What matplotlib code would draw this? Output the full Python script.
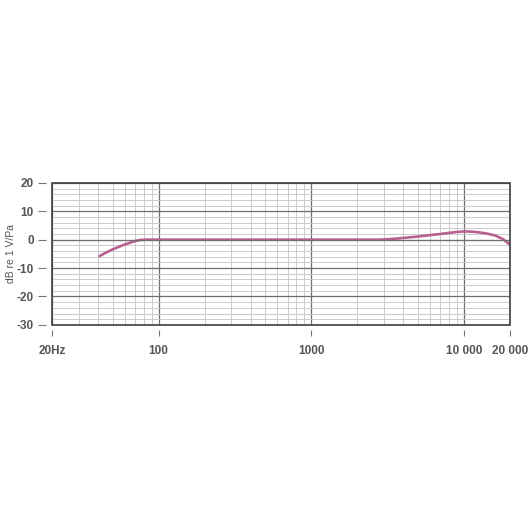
import matplotlib
matplotlib.use("Agg")
import matplotlib.pyplot as plt
from matplotlib.patches import Rectangle
from matplotlib.ticker import FixedLocator, FixedFormatter, NullFormatter, MultipleLocator

# response curve
freq_hz = [41, 45, 50, 55, 60, 65, 70, 76, 82, 100, 200, 500, 1000, 2000, 2800,
           3500, 4000, 5000, 6000, 7000, 8000, 9000, 10000, 11000, 12000,
           14000, 16000, 18000, 20000]
level_db = [-5.8, -4.6, -3.4, -2.5, -1.7, -1.1, -0.5, -0.1, 0.0, 0.0, 0.0, 0.0, 0.0, 0.0, 0.0,
            0.3, 0.6, 1.1, 1.6, 2.0, 2.4, 2.7, 2.9, 2.85, 2.7,
            2.2, 1.5, 0.2, -1.7]

x_ticks = [20, 100, 1000, 10000, 20000]
x_labels = ["20Hz", "100", "1000", "10 000", "20 000"]
y_ticks = [-30, -20, -10, 0, 10, 20]
x_minor = [m * d for d in (10, 100, 1000) for m in range(2, 10)] + [20000]

plt.rcParams["font.family"] = ["Liberation Sans", "DejaVu Sans"]
plt.rcParams["axes.unicode_minus"] = False

text_col = "#555555"
line_col = "#b8608f"

fig = plt.figure(figsize=(5.3, 5.3), dpi=100)
ax = fig.add_axes([0.098, 0.387, 0.864, 0.268])

ax.semilogx(freq_hz, level_db, color=line_col, lw=1.9, zorder=3, solid_capstyle="round")
# the 0 dB reference line shows through the curve
ax.axhline(0, color="#707070", lw=0.8, zorder=3.5)

ax.set_xlim(20, 20000)
ax.set_ylim(-30, 20)

ax.xaxis.set_major_locator(FixedLocator(x_ticks))
ax.xaxis.set_major_formatter(FixedFormatter(x_labels))
ax.xaxis.set_minor_locator(FixedLocator(x_minor))
ax.xaxis.set_minor_formatter(NullFormatter())
ax.yaxis.set_major_locator(FixedLocator(y_ticks))
ax.yaxis.set_minor_locator(MultipleLocator(2))

# grid: light minor, darker major
ax.grid(which="minor", color="#c4c4c4", lw=0.6)
ax.grid(which="major", color="#6e6e6e", lw=0.9)
ax.set_axisbelow(True)

# ticks sit a little away from the frame
for side in ("left", "bottom"):
    ax.spines[side].set_position(("outward", 4))
    ax.spines[side].set_visible(False)
for side in ("top", "right"):
    ax.spines[side].set_visible(False)
ax.add_patch(Rectangle((0, 0), 1, 1, transform=ax.transAxes, fill=False,
                       ec="#404040", lw=1.2, zorder=5, clip_on=False))

ax.tick_params(axis="x", which="major", length=4.5, width=0.8, color="#777777",
               pad=6, labelsize=8.5, labelcolor=text_col)
ax.tick_params(axis="y", which="major", length=6, width=0.8, color="#777777",
               pad=3, labelsize=8.5, labelcolor=text_col)
ax.tick_params(which="minor", length=0)
for lab in ax.get_xticklabels() + ax.get_yticklabels():
    lab.set_fontweight("bold")

ax.set_ylabel("dB re 1 V/Pa", fontsize=7.5, color=text_col)
ax.yaxis.set_label_coords(-0.078, 0.5)

fig.savefig("out.png", dpi=100, facecolor="white")
